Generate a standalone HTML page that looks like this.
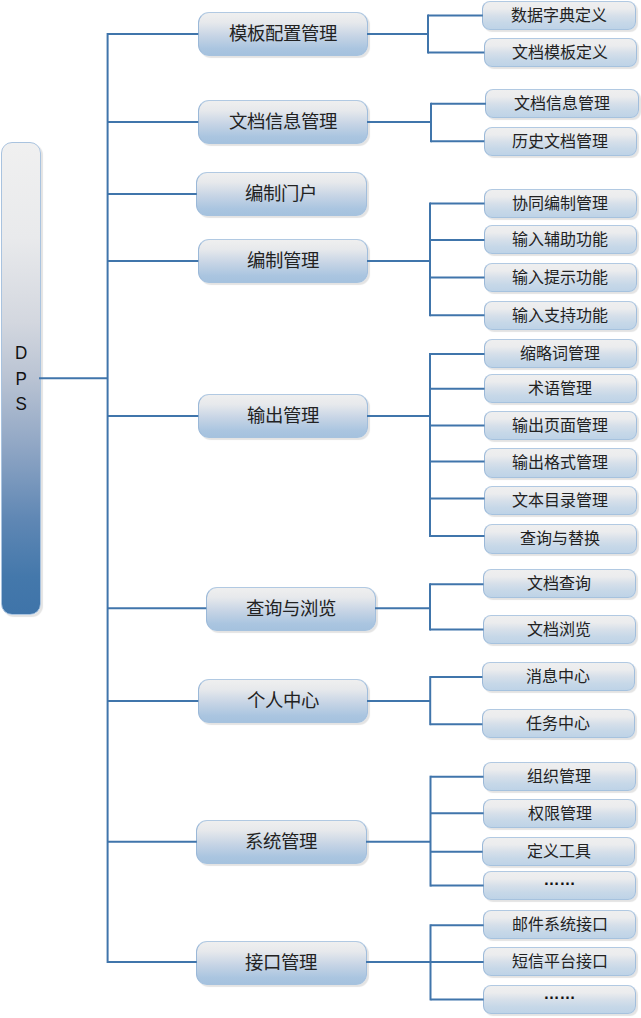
<!DOCTYPE html>
<html lang="zh-CN">
<head>
<meta charset="utf-8">
<title>DPS</title>
<style>
html,body{margin:0;padding:0;background:#fff;}
body{width:641px;height:1018px;position:relative;overflow:hidden;font-family:"Liberation Sans",sans-serif;}
#lines{position:absolute;left:0;top:0;z-index:2;}
.b{position:absolute;box-sizing:border-box;border:1px solid;border-color:#b1c9e2 #a2bedc #a6c2de #9ab8d8;text-align:center;color:#222;white-space:nowrap;box-shadow:2px 2px 1px rgba(0,0,0,0.11);}
.l2{width:170.5px;height:44px;border-radius:11px;line-height:42px;font-size:18.4px;font-family:"Liberation Serif",serif;
 background:linear-gradient(#efefef 0%,#e7e9ec 22%,#c6d4e5 55%,#aac5e0 85%,#a5c2de 100%);}
.l3{width:153.5px;height:29.3px;border-radius:8px;line-height:28px;font-size:16px;font-family:"Liberation Sans",sans-serif;
 background:linear-gradient(#efefef 0%,#ebecee 25%,#d7e0ea 50%,#c7d8e8 75%,#bed3e7 100%);}
.e{position:relative;top:-5.8px;font-weight:bold;color:#111;}
#root{position:absolute;left:0.5px;top:141.5px;width:40.5px;height:473px;box-sizing:border-box;border:1px solid #a9c3df;border-radius:11px;
 box-shadow:2px 2px 1px rgba(0,0,0,0.11);
 background:linear-gradient(#f0f0f0 0%,#e9eaec 20%,#d3d7df 38%,#b9c3d3 50%,#8ea5c4 65%,#5f87b4 80%,#4478ab 92%,#3f74a9 100%);
 font-size:18.5px;color:#111;text-align:center;}
#root span{position:absolute;left:0;width:38.5px;line-height:20px;transform:scaleX(0.92);}
</style>
</head>
<body>

<svg id="lines" width="641" height="1018" viewBox="0 0 641 1018"><g stroke="#4075ab" stroke-width="2" fill="none">
<line x1="107.6" y1="33" x2="107.6" y2="963.1"/>
<line x1="107.6" y1="34" x2="198.3" y2="34"/>
<line x1="107.6" y1="122" x2="198.3" y2="122"/>
<line x1="107.6" y1="194" x2="196.8" y2="194"/>
<line x1="107.6" y1="260.9" x2="198.3" y2="260.9"/>
<line x1="107.6" y1="416" x2="198.3" y2="416"/>
<line x1="107.6" y1="608.2" x2="206.3" y2="608.2"/>
<line x1="107.6" y1="701" x2="198.3" y2="701"/>
<line x1="107.6" y1="841.7" x2="196.8" y2="841.7"/>
<line x1="107.6" y1="962.1" x2="196.8" y2="962.1"/>
<line x1="39" y1="378.3" x2="107.6" y2="378.3"/>
<line x1="367" y1="34" x2="428" y2="34"/>
<line x1="428" y1="14.4" x2="428" y2="53.4"/>
<line x1="428" y1="15.4" x2="482.8" y2="15.4"/>
<line x1="428" y1="52.4" x2="484.3" y2="52.4"/>
<line x1="367" y1="122" x2="431" y2="122"/>
<line x1="431" y1="102.8" x2="431" y2="142.2"/>
<line x1="431" y1="103.8" x2="485.9" y2="103.8"/>
<line x1="431" y1="141.2" x2="484.3" y2="141.2"/>
<line x1="367" y1="260.9" x2="430" y2="260.9"/>
<line x1="430" y1="202.5" x2="430" y2="316.2"/>
<line x1="430" y1="203.5" x2="484.5" y2="203.5"/>
<line x1="430" y1="240.1" x2="484.5" y2="240.1"/>
<line x1="430" y1="277.5" x2="484.5" y2="277.5"/>
<line x1="430" y1="315.2" x2="484.5" y2="315.2"/>
<line x1="367" y1="416" x2="430" y2="416"/>
<line x1="430" y1="353" x2="430" y2="537"/>
<line x1="430" y1="354" x2="484.5" y2="354"/>
<line x1="430" y1="388.7" x2="484.5" y2="388.7"/>
<line x1="430" y1="425.5" x2="484.5" y2="425.5"/>
<line x1="430" y1="461.5" x2="484.5" y2="461.5"/>
<line x1="430" y1="498.6" x2="484.5" y2="498.6"/>
<line x1="430" y1="536" x2="484.5" y2="536"/>
<line x1="375" y1="608.2" x2="430" y2="608.2"/>
<line x1="430" y1="583.3" x2="430" y2="630.6"/>
<line x1="430" y1="584.3" x2="483.5" y2="584.3"/>
<line x1="430" y1="629.6" x2="483.5" y2="629.6"/>
<line x1="367" y1="701" x2="430.2" y2="701"/>
<line x1="430.2" y1="676.1" x2="430.2" y2="725.2"/>
<line x1="430.2" y1="677.1" x2="482.4" y2="677.1"/>
<line x1="430.2" y1="724.2" x2="482.4" y2="724.2"/>
<line x1="366" y1="841.7" x2="430.5" y2="841.7"/>
<line x1="430.5" y1="775.7" x2="430.5" y2="886.6"/>
<line x1="430.5" y1="776.7" x2="483.5" y2="776.7"/>
<line x1="430.5" y1="813.2" x2="483.6" y2="813.2"/>
<line x1="430.5" y1="851.7" x2="482.6" y2="851.7"/>
<line x1="430.5" y1="885.6" x2="483.6" y2="885.6"/>
<line x1="366" y1="962.1" x2="430.5" y2="962.1"/>
<line x1="430.5" y1="924.3" x2="430.5" y2="1000.4"/>
<line x1="430.5" y1="925.3" x2="483.6" y2="925.3"/>
<line x1="430.5" y1="962.1" x2="483.6" y2="962.1"/>
<line x1="430.5" y1="999.4" x2="483.6" y2="999.4"/>
</g></svg>
<div id="root"><span style="top:200.5px">D</span><span style="top:226.5px">P</span><span style="top:251.5px">S</span></div>
<div class="b l2" style="left:197.5px;top:12px">模板配置管理</div>
<div class="b l2" style="left:197.5px;top:100px">文档信息管理</div>
<div class="b l2" style="left:196px;top:171.5px">编制门户</div>
<div class="b l2" style="left:197.5px;top:238.5px">编制管理</div>
<div class="b l2" style="left:197.5px;top:393.5px">输出管理</div>
<div class="b l2" style="left:205.5px;top:586.5px">查询与浏览</div>
<div class="b l2" style="left:197.5px;top:679px">个人中心</div>
<div class="b l2" style="left:196px;top:820px">系统管理</div>
<div class="b l2" style="left:196px;top:940.5px">接口管理</div>
<div class="b l3" style="left:482px;top:0.5px">数据字典定义</div>
<div class="b l3" style="left:483.5px;top:37.5px">文档模板定义</div>
<div class="b l3" style="left:485.1px;top:89px">文档信息管理</div>
<div class="b l3" style="left:483.5px;top:126.5px">历史文档管理</div>
<div class="b l3" style="left:483.7px;top:188.5px">协同编制管理</div>
<div class="b l3" style="left:483.7px;top:225px">输入辅助功能</div>
<div class="b l3" style="left:483.7px;top:262.5px">输入提示功能</div>
<div class="b l3" style="left:483.7px;top:300.5px">输入支持功能</div>
<div class="b l3" style="left:483.7px;top:339px">缩略词管理</div>
<div class="b l3" style="left:483.7px;top:374px">术语管理</div>
<div class="b l3" style="left:483.7px;top:410.5px">输出页面管理</div>
<div class="b l3" style="left:483.7px;top:448.3px">输出格式管理</div>
<div class="b l3" style="left:483.7px;top:486px">文本目录管理</div>
<div class="b l3" style="left:483.7px;top:524.4px">查询与替换</div>
<div class="b l3" style="left:482.7px;top:569px">文档查询</div>
<div class="b l3" style="left:482.7px;top:614.7px">文档浏览</div>
<div class="b l3" style="left:481.6px;top:662px">消息中心</div>
<div class="b l3" style="left:481.6px;top:709px">任务中心</div>
<div class="b l3" style="left:482.7px;top:761.5px">组织管理</div>
<div class="b l3" style="left:482.8px;top:798.6px">权限管理</div>
<div class="b l3" style="left:481.8px;top:836.5px">定义工具</div>
<div class="b l3" style="left:482.8px;top:870.7px"><span class="e">……</span></div>
<div class="b l3" style="left:482.8px;top:910px">邮件系统接口</div>
<div class="b l3" style="left:482.8px;top:946.7px">短信平台接口</div>
<div class="b l3" style="left:482.8px;top:984.6px"><span class="e">……</span></div>
</body>
</html>
